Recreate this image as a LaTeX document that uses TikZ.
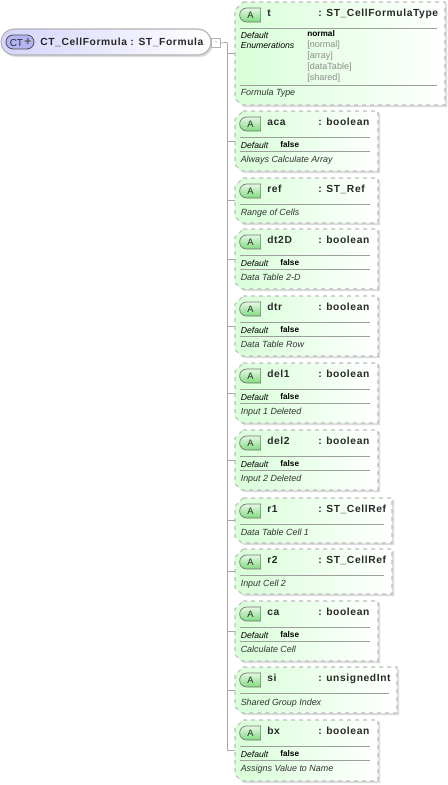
\documentclass[tikz,border=0pt]{standalone}
\usepackage{fontspec}
\setmainfont{Liberation Sans}
\newfontfamily\namefont[LetterSpace=6]{Liberation Sans}
\usepackage{xcolor}
\usetikzlibrary{shapes.misc,shadows}
\definecolor{boxgray}{HTML}{BEBEBE}
\definecolor{wiregray}{HTML}{A8A8A8}
\definecolor{attrgreen}{HTML}{D8FFD8}
\definecolor{attrmid}{HTML}{F2FFF2}
\definecolor{badgetop}{HTML}{E4F8E4}
\definecolor{badgegreen}{HTML}{80DC80}
\definecolor{rootblue}{HTML}{D4D4FC}
\definecolor{badgeblue}{HTML}{B4B4F4}
\definecolor{textdark}{HTML}{282828}

\begin{document}
\begin{tikzpicture}[x=0.75pt,y=-0.75pt,every node/.style={inner sep=0pt,text=textdark},
    attrshape/.style={draw=boxgray,dashed,line width=0.8pt,
      left color=attrgreen,middle color=attrmid,right color=white,
      drop shadow={shadow xshift=1.5pt,shadow yshift=-1.5pt,fill=black!35,opacity=0.4}},
    badge/.style={rounded rectangle,rounded rectangle east arc=none,
      minimum width=15.75pt,minimum height=10.5pt,draw=black!55,line width=0.5pt,
      top color=badgetop,bottom color=badgegreen,font=\fontsize{7}{8}\selectfont},
    nm/.style={anchor=base west,font=\namefont\bfseries\fontsize{7.7}{9}\selectfont},
    dflt/.style={anchor=base west,font=\itshape\fontsize{6.5}{7}\selectfont,text=black},
    val/.style={anchor=base west,font=\bfseries\fontsize{6.2}{7}\selectfont,text=black},
    enum/.style={anchor=base west,font=\fontsize{6.8}{7}\selectfont,text=black!45},
    doc/.style={anchor=base west,font=\itshape\fontsize{6.7}{7}\selectfont,text=black!80},
    sepline/.style={draw=black!38,line width=0.6pt},
    wire/.style={draw=wiregray,line width=0.6pt}]
  \useasboundingbox (0,0) rectangle (448,785);
  % root element
  \node[rounded rectangle,minimum width=157.5pt,minimum height=19.5pt,
    draw=black!30,line width=0.8pt,left color=rootblue,right color=white,
    drop shadow={shadow xshift=1.5pt,shadow yshift=-1.5pt,fill=black!35,opacity=0.4}] (root) at (106,42) {};
  \node[rounded rectangle,minimum width=21pt,minimum height=10.5pt,
    draw=black!70,line width=0.6pt,fill=badgeblue] (ctbadge) at (20,42) {};
  \node[anchor=base west,font=\fontsize{7.5}{9}\selectfont] (cttext) at (9.5,46.5) {CT};
  \node[font=\bfseries\fontsize{9}{9}\selectfont,text=black!65] (ctplus) at (28,41.5) {+};
  \node[nm] (rootname) at (40,45.5) {CT\_CellFormula : ST\_Formula};
  \node[draw=black!30,line width=0.5pt,fill=white,anchor=north west,minimum width=6.75pt,minimum height=6.75pt] (collapse) at (211,38) {};
  \node[font=\fontsize{6}{6}\selectfont,text=black!45] (minus) at (collapse.center) {-};
  \coordinate (trunk) at (227,42.5);
  \draw[wire] (collapse.east) -- (trunk);
  % attribute boxes
  \foreach \nme/\tp/\bt/\rgt/\typ/\desc/\dscy in {
      t/2/105/445/ST\_CellFormulaType/Formula Type/95,
      aca/111/171/378/boolean/Always Calculate Array/162,
      ref/178/223/378/ST\_Ref/Range of Cells/215,
      dt2D/229/289/378/boolean/Data Table 2-D/280,
      dtr/296/356/378/boolean/Data Table Row/347,
      del1/363/423/378/boolean/Input 1 Deleted/414,
      del2/430/490/378/boolean/Input 2 Deleted/481,
      r1/498/543/392/ST\_CellRef/Data Table Cell 1/535,
      r2/549/594/392/ST\_CellRef/Input Cell 2/586,
      ca/601/661/378/boolean/Calculate Cell/652,
      si/667/713/397/unsignedInt/Shared Group Index/705,
      bx/720/781/378/boolean/Assigns Value to Name/771} {
    \node[anchor=north west,minimum width=(\rgt-235)*0.75pt,minimum height=(\bt-\tp)*0.75pt] (\nme) at (235,\tp) {};
    \path[attrshape] (243,\tp) -- (\rgt,\tp) -- (\rgt,\bt) -- (242,\bt) -- (235,\bt-6) -- (235,\tp+8) -- cycle;
    \draw[wire] (trunk) |- (\nme.west);
    \node[badge] (\nme-badge) at (250.5,\tp+13) {A};
    \node[nm] (\nme-name) at (267,\tp+14.5) {\nme};
    \node[nm] (\nme-type) at (318,\tp+14.5) {: \typ};
    \draw[sepline] (240,\tp+26) -- (\rgt-8,\tp+26);
    \node[doc] (\nme-doc) at (240.5,\dscy) {\desc};
  }
  % default values
  \foreach \nme/\tp/\rgt in {aca/111/378,dt2D/229/378,dtr/296/378,del1/363/378,del2/430/378,ca/601/378,bx/720/378} {
    \draw[sepline] (240,\tp+40) -- (\rgt-8,\tp+40);
    \node[dflt] (\nme-dflt) at (240.5,\tp+37) {Default};
    \node[val] (\nme-val) at (280,\tp+36) {false};
  }
  \draw[sepline] (240,85) -- (437,85);
  \node[dflt] (t-dflt) at (240.5,38) {Default};
  \node[val] (t-val) at (307,36.5) {normal};
  \node[dflt] (t-enum) at (240.5,48) {Enumerations};
  \foreach \enm/\y in {normal/47,array/58,dataTable/69,shared/80}
    \node[enum] (t-\enm) at (307,\y) {[\enm]};
\end{tikzpicture}
\end{document}
